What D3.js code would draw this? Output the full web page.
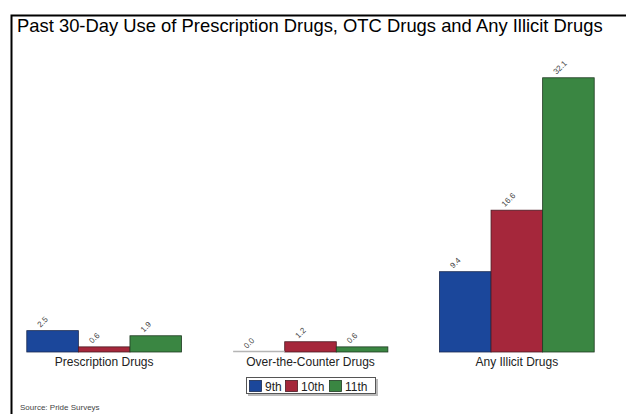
<!DOCTYPE html>
<html>
<head>
<meta charset="utf-8">
<script src="https://cdn.jsdelivr.net/npm/d3@7"></script>
<style>
  html, body { margin: 0; padding: 0; background: #fff; }
  svg { display: block; font-family: "Liberation Sans", Arial, sans-serif; }
</style>
</head>
<body>
<svg id="chart" width="626" height="414"></svg>
<script>
// Past 30-day use, percent of students by grade
const categories = ["Prescription Drugs", "Over-the-Counter Drugs", "Any Illicit Drugs"];
const grades = ["9th", "10th", "11th"];
const grade9 = [2.5, 0.0, 9.4];
const grade10 = [0.6, 1.2, 16.6];
const grade11 = [1.9, 0.6, 32.1];
const colors = ["#1b479b", "#a5273b", "#3a8642"];
const strokes = ["#1a2a50", "#4a1a22", "#1f3a22"];

const seriesValues = [grade9, grade10, grade11];
const rows = categories.map((c, i) => ({
  category: c,
  values: grades.map((g, j) => ({ grade: g, value: seriesValues[j][i], k: j }))
}));

const svg = d3.select("#chart");

// Frame (left and top rules)
svg.append("path")
  .attr("d", "M11.5,414 V15.5 H626")
  .attr("fill", "none")
  .attr("stroke", "#000")
  .attr("stroke-width", 2);

// Title
svg.append("text")
  .attr("x", 17)
  .attr("y", 32)
  .attr("font-size", 18.4)
  .attr("fill", "#000")
  .text("Past 30-Day Use of Prescription Drugs, OTC Drugs and Any Illicit Drugs");

const x0 = d3.scaleBand()
  .domain(categories)
  .range([1, 620])
  .paddingInner(0.25)
  .paddingOuter(0.125);

const x1 = d3.scaleBand()
  .domain(grades)
  .range([0, x0.bandwidth()]);

const y = d3.scaleLinear()
  .domain([0, 35])
  .range([352, 53]);

const groups = svg.append("g").selectAll("g")
  .data(rows)
  .join("g")
  .attr("transform", d => `translate(${x0(d.category)},0)`);

// Bars
groups.selectAll("rect")
  .data(d => d.values)
  .join("rect")
  .attr("x", d => x1(d.grade))
  .attr("y", d => y(d.value))
  .attr("width", x1.bandwidth())
  .attr("height", d => y(0) - y(d.value))
  .attr("fill", d => colors[d.k])
  .attr("stroke", d => d.value > 0 ? strokes[d.k] : "none")
  .attr("stroke-width", 0.8);

// Zero-value bars show as a thin grey rule on the baseline
groups.selectAll("line.zero")
  .data(d => d.values.filter(v => v.value === 0))
  .join("line")
  .attr("class", "zero")
  .attr("x1", d => x1(d.grade))
  .attr("x2", d => x1(d.grade) + x1.bandwidth())
  .attr("y1", y(0) - 0.5)
  .attr("y2", y(0) - 0.5)
  .attr("stroke", "#b5b5b5")
  .attr("stroke-width", 1.5);

// Value labels, slanted
groups.selectAll("text.val")
  .data(d => d.values)
  .join("text")
  .attr("class", "val")
  .attr("transform", d => `translate(${x1(d.grade) + x1.bandwidth() / 2 - 12},${y(d.value) - 3}) rotate(-45)`)
  .attr("font-size", 8)
  .attr("fill", "#444")
  .text(d => d.value.toFixed(1));

// Category axis labels
const xAxis = svg.append("g")
  .attr("transform", `translate(0,${y(0)})`)
  .call(d3.axisBottom(x0).tickSize(0).tickPadding(5));
xAxis.select(".domain").remove();
xAxis.selectAll("text")
  .attr("font-size", 12)
  .attr("font-family", "'Liberation Sans', Arial, sans-serif")
  .attr("fill", "#222");

// Legend
const legend = svg.append("g").attr("transform", "translate(246,377)");
legend.append("rect")
  .attr("x", 2).attr("y", 2)
  .attr("width", 130).attr("height", 17)
  .attr("fill", "#bbb");
legend.append("rect")
  .attr("x", 0.5).attr("y", 0.5)
  .attr("width", 129).attr("height", 16)
  .attr("fill", "#fff")
  .attr("stroke", "#555")
  .attr("stroke-width", 1);
const legendX = d3.scalePoint().domain(grades).range([3.5, 83.5]);
const items = legend.selectAll("g.item")
  .data(grades)
  .join("g")
  .attr("class", "item")
  .attr("transform", (g, i) => `translate(${legendX(g) - (i === 1 ? 4 : 0)},3.5)`);
items.append("rect")
  .attr("width", 12).attr("height", 11)
  .attr("fill", (g, i) => colors[i])
  .attr("stroke", (g, i) => strokes[i])
  .attr("stroke-width", 0.8);
items.append("text")
  .attr("x", 15.5)
  .attr("y", 10)
  .attr("font-size", 12)
  .attr("fill", "#222")
  .text(g => g);

// Source note
svg.append("text")
  .attr("x", 20)
  .attr("y", 410)
  .attr("font-size", 8)
  .attr("fill", "#444")
  .text("Source: Pride Surveys");
</script>
</body>
</html>
